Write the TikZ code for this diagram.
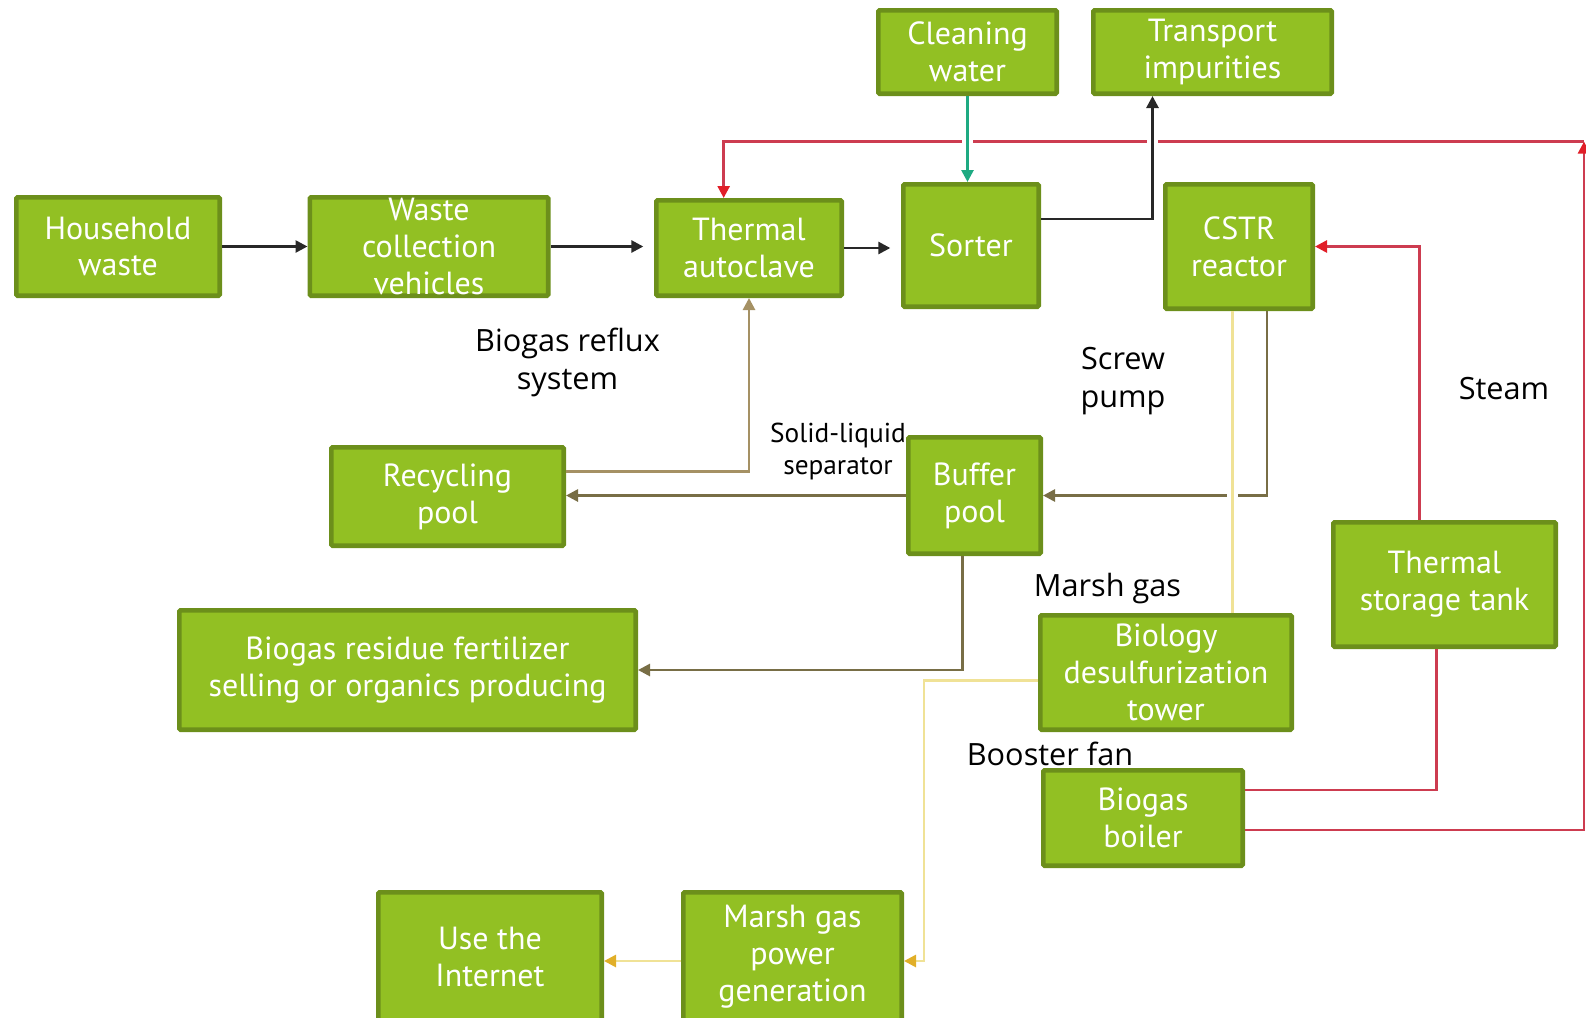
\documentclass[tikz,border=0pt]{standalone}
\usepackage{fontspec}
\setmainfont{PT Sans}
\newfontfamily\lblfont{Open Sans}
\usetikzlibrary{arrows.meta}

\definecolor{boxfill}{RGB}{146,192,35}
\definecolor{boxedge}{RGB}{108,143,27}
\definecolor{feedline}{RGB}{40,40,40}
\definecolor{waterline}{RGB}{30,170,130}
\definecolor{steamline}{RGB}{205,60,80}
\definecolor{steamtip}{RGB}{225,30,40}
\definecolor{slurryline}{RGB}{120,110,70}
\definecolor{refluxline}{RGB}{165,145,100}
\definecolor{gasline}{RGB}{240,226,150}
\definecolor{gastip}{RGB}{225,175,40}

\tikzset{every picture/.style={line width=0.75pt}}
\tikzset{
  box/.style={draw=boxedge, fill=boxfill, line width=3.5pt, rounded corners=1pt,
    text=white, align=center, inner sep=0pt, font=\fontsize{24}{27.7}\selectfont},
  lbl/.style={align=center, inner sep=1pt, font=\lblfont\fontsize{23}{28.5}\selectfont},
  seplbl/.style={align=center, inner sep=1pt, font=\fontsize{20.5}{24}\selectfont},
  tip/.style={-{Triangle[length=9pt,width=9pt,#1]}},
  tip/.default={},
  feed/.style={draw=feedline, line width=2pt, tip},
  water/.style={draw=waterline, line width=2pt, tip},
  steam/.style={draw=steamline, line width=2pt},
  slurry/.style={draw=slurryline, line width=2pt, tip},
  reflux/.style={draw=refluxline, line width=2pt, tip},
  gas/.style={draw=gasline, line width=2pt},
  gap/.style={preaction={draw=white, line width=8pt, -, shorten <=5pt, shorten >=5pt}},
}

\begin{document}
\begin{tikzpicture}[x=0.75pt,y=0.75pt,yscale=-1,xscale=1]
\useasboundingbox (0,0) rectangle (1586,1018);

%Shape: Rectangle [top row]
\node[box, minimum width=152.5pt, minimum height=73.75pt] (hw) at (118,246.5) {Household\\waste};
\node[box, minimum width=178.75pt, minimum height=73.75pt] (wcv) at (429,246.5) {Waste\\collection\\vehicles};
\node[box, minimum width=139pt, minimum height=71.5pt] (ta) at (749,248) {Thermal\\autoclave};
\node[box, minimum width=101.5pt, minimum height=91.75pt] (sorter) at (971,245.5) {Sorter};
\node[box, minimum width=110.5pt, minimum height=93.25pt] (cstr) at (1239,246.5) {CSTR\\reactor};
\node[box, minimum width=133.75pt, minimum height=62.5pt] (clean) at (967.5,52) {Cleaning\\water};
\node[box, minimum width=178.75pt, minimum height=62.5pt] (trans) at (1212.5,52) {Transport\\impurities};

%Shape: Rectangle [middle]
\node[box, minimum width=174.25pt, minimum height=73.75pt] (recyc) at (447.5,496.5) {Recycling\\pool};
\node[box, minimum width=99.25pt, minimum height=87.25pt] (buffer) at (974.5,495.5) {Buffer\\pool};
\node[box, minimum width=342.25pt, minimum height=89.5pt] (resid) at (407.5,670) {Biogas residue fertilizer\\selling or organics producing};
\node[box, minimum width=188.5pt, minimum height=85.75pt] (desulf) at (1166,672.5) {Biology\\desulfurization\\tower};
\node[box, minimum width=166.75pt, minimum height=93.25pt] (tank) at (1444.5,584.5) {Thermal\\storage tank};

%Shape: Rectangle [bottom]
\node[box, minimum width=149.5pt, minimum height=71.5pt] (boiler) at (1143,818) {Biogas\\boiler};
\node[box, minimum width=167.5pt, minimum height=97pt] (net) at (490,957) {Use the\\Internet};
\node[box, minimum width=163.75pt, minimum height=97pt] (power) at (792.5,957) {Marsh gas\\power\\generation};

% Text Node
\node[lbl] (reflux) at (567.5,362) {Biogas reflux\\system};
\node[lbl] (screw) at (1123,381) {Screw\\pump};
\node[lbl] (steam) at (1504,388.5) {Steam};
\node[seplbl] (separ) at (838,451) {Solid-liquid\\separator};
\node[lbl] (marsh) at (1107.5,589) {Marsh gas};
\node[lbl] (booster) at (1050,753.5) {Booster fan};

%Steam Lines
\coordinate (steamtop) at (1584,141.6);
\draw[steam, tip={color=steamtip}] ([yshift=9pt]boiler.east) -| (steamtop);
\draw[steam, tip={color=steamtip}] (steamtop) -| ([xshift=-19pt]ta.north);
\draw[steam, tip={color=steamtip}] ([xshift=-19pt]tank.north) |- (cstr.east);
\draw[steam] ([yshift=-21pt]boiler.east) -| ([xshift=-6pt]tank.south);

%Straight Lines [waste feed]
\draw[feed] (hw) -- (wcv);
\draw[feed, shorten >=8pt] (wcv.east) -- (wcv.east -| ta.west);
\draw[feed, shorten >=8pt] (ta.east) -- (ta.east -| sorter.west);
\draw[feed, gap] ([yshift=-20pt]sorter.east) -| ([xshift=-45pt]trans.south);
\draw[water, gap] (clean.south) -- (clean.south |- sorter.north);

%Straight Lines [slurry]
\draw[slurry] ([xshift=21pt]cstr.south) |- (buffer.east);
\draw[slurry] (buffer.west) -- (buffer.west -| recyc.east);
\draw[reflux] ([yshift=-19pt]recyc.east) -| (ta.south);
\draw[slurry] ([xshift=-9pt]buffer.south) |- (resid.east);

%Straight Lines [marsh gas]
\draw[gas, gap] ([xshift=-5pt]cstr.south) -- ([xshift=-5pt]cstr.south |- desulf.north);
\draw[gas, tip={color=gastip}] ([yshift=6pt]desulf.west) -| ([xshift=15pt,yshift=3pt]power.east) -- ([yshift=3pt]power.east);
\draw[gas, tip={color=gastip}] ([yshift=3pt]power.west) -- ([yshift=3pt]power.west -| net.east);

\end{tikzpicture}
\end{document}
